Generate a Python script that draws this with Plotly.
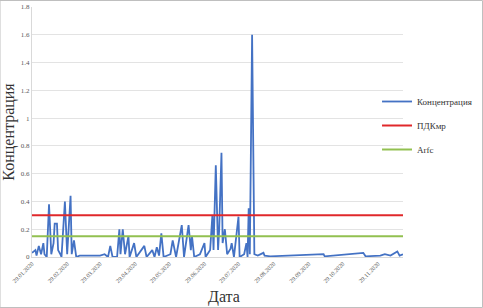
import plotly.graph_objects as go

dates = ["2020-01-29","2020-02-01","2020-02-02","2020-02-04","2020-02-06","2020-02-08","2020-02-09","2020-02-11",
         "2020-02-13","2020-02-15","2020-02-17","2020-02-18","2020-02-20","2020-02-21","2020-02-23","2020-02-24",
         "2020-02-27","2020-02-29","2020-03-03","2020-03-04","2020-03-06","2020-03-08","2020-03-11","2020-03-29",
         "2020-04-02","2020-04-05","2020-04-07","2020-04-09","2020-04-13","2020-04-15","2020-04-16","2020-04-18",
         "2020-04-20","2020-04-23","2020-04-24","2020-04-28","2020-04-30","2020-05-07","2020-05-09","2020-05-14",
         "2020-05-16","2020-05-18","2020-05-20","2020-05-22","2020-05-24","2020-05-30","2020-06-01","2020-06-04",
         "2020-06-09","2020-06-11","2020-06-15","2020-06-17","2020-06-18","2020-06-20","2020-06-25","2020-06-29",
         "2020-06-30","2020-07-04","2020-07-06","2020-07-07","2020-07-09","2020-07-11","2020-07-12","2020-07-14",
         "2020-07-15","2020-07-17","2020-07-19","2020-07-22","2020-07-23","2020-07-25","2020-07-29","2020-07-30",
         "2020-08-03","2020-08-05","2020-08-06","2020-08-07","2020-08-08","2020-08-10","2020-08-12","2020-08-15",
         "2020-08-20","2020-08-21","2020-08-26","2020-10-12","2020-10-13","2020-11-16","2020-11-18","2020-12-01",
         "2020-12-05","2020-12-10","2020-12-16","2020-12-18","2020-12-21"]
conc = [0.03,0.05,0.01,0.08,0.02,0.10,0.02,0.0,
        0.38,0.02,0.10,0.24,0.24,0.05,0.02,0.0,
        0.40,0.02,0.44,0.02,0.12,0.0,0.01,0.01,
        0.02,0.0,0.08,0.0,0.0,0.20,0.02,0.20,
        0.02,0.15,0.0,0.10,0.0,0.08,0.0,0.05,
        0.0,0.07,0.01,0.17,0.0,0.02,0.12,0.0,
        0.23,0.0,0.23,0.05,0.15,0.0,0.02,0.10,
        0.0,0.05,0.30,0.05,0.66,0.05,0.20,0.75,
        0.10,0.20,0.02,0.06,0.10,0.0,0.29,0.0,
        0.02,0.10,0.0,0.35,0.02,1.60,0.02,0.01,
        0.03,0.01,0.005,0.02,0.005,0.03,0.005,0.01,
        0.02,0.01,0.04,0.01,0.02]
pdk_value = 0.3
arfc_value = 0.15
tick_dates = ["2020-01-29","2020-02-29","2020-03-29","2020-04-29","2020-05-29","2020-06-29",
              "2020-07-29","2020-08-29","2020-09-29","2020-10-29","2020-11-29"]
tick_text = ["29.01.2020","29.02.2020","29.03.2020","29.04.2020","29.05.2020","29.06.2020",
             "29.07.2020","29.08.2020","29.09.2020","29.10.2020","29.11.2020"]

serif = "Liberation Serif"
fig = go.Figure()
fig.add_trace(go.Scatter(x=dates, y=conc, mode="lines", name="Концентрация",
                         line=dict(color="#4472C4", width=1.8), legendgroup="a"))
fig.add_trace(go.Scatter(x=[dates[0], dates[-1]], y=[pdk_value]*2, mode="lines", name="ПДКмр",
                         line=dict(color="#E0282B", width=2), legendgroup="b"))
fig.add_trace(go.Scatter(x=[dates[0], dates[-1]], y=[arfc_value]*2, mode="lines", name="Arfc",
                         line=dict(color="#92C050", width=2), legendgroup="c"))

fig.update_layout(
    width=483, height=308,
    margin=dict(l=32, r=80, t=7, b=51, autoexpand=False),
    paper_bgcolor="white", plot_bgcolor="white",
    font=dict(family=serif, color="#595959"),
    showlegend=True,
    legend=dict(x=0.93, y=0.68, xanchor="left", yanchor="top",
                font=dict(size=9, color="#333333", family=serif),
                tracegroupgap=5, itemwidth=30, bgcolor="rgba(0,0,0,0)"),
    xaxis=dict(type="date", range=[dates[0], dates[-1]], tickvals=tick_dates, ticktext=tick_text,
               tickangle=-45, tickfont=dict(size=6, family=serif, color="#595959"), automargin=False,
               showgrid=False, showline=True, linecolor="#d9d9d9", linewidth=1, ticks=""),
    yaxis=dict(range=[0, 1.8], dtick=0.2, tickfont=dict(size=7, family=serif, color="#595959"),
               showgrid=True, gridcolor="#e3e3e3", gridwidth=1, zeroline=False, automargin=False,
               showline=True, linecolor="#d9d9d9", ticks="",
               title=dict(text="Концентрация", font=dict(size=16, family=serif, color="#333333"), standoff=2)),
)
fig.add_annotation(text="Дата", xref="paper", yref="paper", x=(224-32)/371, y=-(297-257)/250,
                   xanchor="center", yanchor="middle", showarrow=False,
                   font=dict(size=16, family=serif, color="#333333"))
fig.add_shape(type="rect", xref="paper", yref="paper",
              x0=-32/371, x1=(483-32-0.5)/371, y0=-(51-0.5)/250, y1=(250+7-0.5)/250,
              line=dict(color="#bfbfbf", width=1), fillcolor="rgba(0,0,0,0)", layer="below")
fig.write_html("out.html", config={"displayModeBar": False},
               post_script="document.body.style.margin='0';")
